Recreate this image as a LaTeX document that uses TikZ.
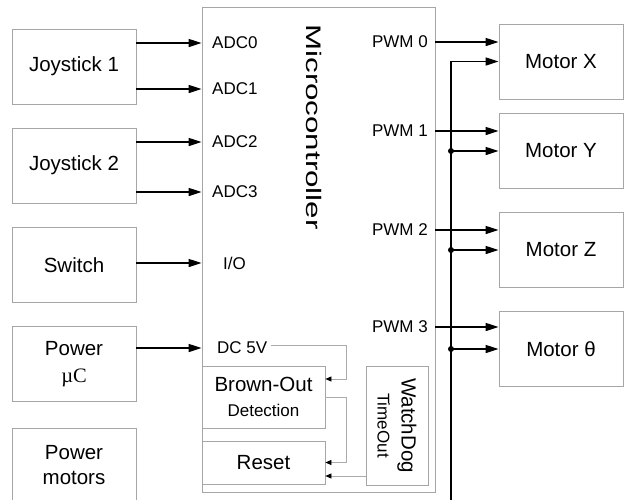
\documentclass[tikz,border=0pt]{standalone}
\usepackage{graphicx}
\usepackage{fontspec}
\setmainfont{Liberation Sans}
\newfontfamily\mufont{Liberation Serif}
\usetikzlibrary{arrows.meta, positioning, calc}
\definecolor{boxGray}{HTML}{A6A6A6}
\definecolor{wireGray}{HTML}{ABABAB}

\begin{document}
\begin{tikzpicture}[
  x=1pt, y=-1pt,
  block/.style={draw=boxGray, line width=0.8pt, minimum width=124pt,
                minimum height=75pt, inner sep=0pt, align=center,
                font=\fontsize{20.5}{25}\selectfont},
  inblock/.style={block, minimum width=123pt},
  chip/.style={draw=boxGray, line width=0.8pt, inner sep=0pt},
  port/.style={inner sep=0pt, font=\fontsize{17}{20}\selectfont},
  arr/.style={-{Triangle[length=13pt, width=8pt]}, line width=1.4pt},
  fb/.style={-{Triangle[length=6pt, width=5pt, color=black]}, draw=wireGray,
             line width=0.7pt},
  dot/.style={circle, fill, inner sep=0pt, minimum size=6pt},
]
\useasboundingbox (0,0) rectangle (624,499);

% inputs
\node[block] (js1) at (74,66.5) {Joystick 1};
\node[block] (js2) at (74,165.5) {Joystick 2};
\node[block] (sw) at (74,265) {Switch};
\node[block] (pwu) at (74,364) {Power\\[2pt]{\mufont µC}};
\node[block] (pwm) at (74,465.5) {Power\\motors};

% microcontroller
\node[chip, minimum width=233pt, minimum height=485pt] (mc) at (318.5,249.5) {};
\node[rotate=-90, inner sep=0pt, font=\fontsize{21}{25}\selectfont] (mclabel)
  at (314,127) {\scalebox{1.49}[1]{Microcontroller}};

\node[port, anchor=west] (a0) at (212,43) {ADC0};
\node[port, anchor=west] (a1) at (212,89) {ADC1};
\node[port, anchor=west] (a2) at (212,142) {ADC2};
\node[port, anchor=west] (a3) at (212,192) {ADC3};
\node[port, anchor=west] (io) at (223,263) {I/O};
\node[port, anchor=west] (dc) at (217,348) {DC 5V};

\node[port, anchor=east] (p0) at (428,42) {PWM 0};
\node[port, anchor=east] (p1) at (428,131) {PWM 1};
\node[port, anchor=east] (p2) at (428,230) {PWM 2};
\node[port, anchor=east] (p3) at (428,327) {PWM 3};

\node[inblock, minimum height=62pt] (bod) at (263.5,397)
  {Brown-Out\\{\fontsize{17}{20}\selectfont Detection}};
\node[inblock, minimum height=43pt] (rst) at (263.5,462.5) {Reset};
\node[block, minimum width=62pt, minimum height=119pt] (wd) at (397,425.5) {};
\node[rotate=-90, align=center, inner sep=0pt, font=\fontsize{20.5}{24}\selectfont]
  (wdlabel) at (wd.center) {WatchDog\\{\fontsize{17}{20}\selectfont TimeOut}};

% motors
\node[block] (mx) at (561,61.5) {Motor X};
\node[block] (my) at (561,151) {Motor Y};
\node[block] (mz) at (561,250) {Motor Z};
\node[block] (mt) at (561,349) {Motor θ};

% signals
\foreach \p/\s in {a0/js1, a1/js1, a2/js2, a3/js2, io/sw, dc/pwu}
  \draw[arr] (\p -| \s.east) -- (\p -| mc.west);
\foreach \p/\m in {p0/mx, p1/my, p2/mz, p3/mt}
  \draw[arr] (\p -| mc.east) -- (\p -| \m.west);

% motor supply bus
\coordinate (busend) at (451,510);
\draw[arr] (busend) |- (mx.west);
\foreach \m in {my, mz, mt} {
  \draw[arr] (busend |- \m.west) -- (\m.west);
  \node[dot] (j-\m) at (busend |- \m.west) {};
}

% internal wiring
\draw[fb] ($(dc.east)+(4,-2.5)$) -| ($(bod.east)+(21,-18)$) -- ($(bod.east)+(0,-18)$);
\draw[fb] (bod.east) -- ++(21,0) |- (rst.east);
\coordinate (wdo) at ($(rst.east)+(0,13.5)$);
\draw[fb] (wdo -| wd.west) -- (wdo);
\end{tikzpicture}
\end{document}
